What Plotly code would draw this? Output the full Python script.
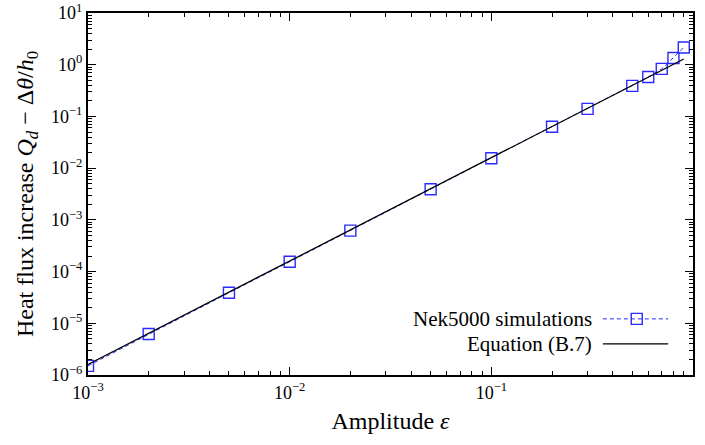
import plotly.graph_objects as go

# Data
sim_eps = [0.001, 0.002, 0.005, 0.01, 0.02, 0.05, 0.1, 0.2, 0.3, 0.5, 0.6, 0.7, 0.8, 0.9]
sim_q = [1.5e-6, 6.2e-6, 3.9e-5, 1.55e-4, 6.2e-4, 3.9e-3, 1.55e-2, 6.3e-2, 0.14, 0.39, 0.58, 0.83, 1.35, 2.15]
eq_eps = [0.001, 0.01, 0.1, 0.9]
eq_q = [1.6e-6, 1.6e-4, 1.6e-2, 1.29]

x_tickvals = [1e-3, 1e-2, 1e-1, 1e0]
x_ticktext = ["10<sup>\u22123</sup>", "10<sup>\u22122</sup>", "10<sup>\u22121</sup>", "10<sup>0</sup>"]
y_tickvals = [1e-6, 1e-5, 1e-4, 1e-3, 1e-2, 1e-1, 1e0, 1e1]
y_ticktext = ["10<sup>\u22126</sup>", "10<sup>\u22125</sup>", "10<sup>\u22124</sup>", "10<sup>\u22123</sup>",
              "10<sup>\u22122</sup>", "10<sup>\u22121</sup>", "10<sup>0</sup>", "10<sup>1</sup>"]

FONT = "Times New Roman, Liberation Serif, DejaVu Serif, serif"
BLUE = "#2a2aff"
DASH = "4px,3px"

fig = go.Figure()
fig.add_trace(go.Scatter(
    x=sim_eps, y=sim_q, mode="lines+markers",
    line=dict(color=BLUE, width=1, dash=DASH),
    marker=dict(symbol="square-open", size=11, color=BLUE, line=dict(width=1.4, color=BLUE)),
    showlegend=False,
))
fig.add_trace(go.Scatter(
    x=eq_eps, y=eq_q, mode="lines",
    line=dict(color="black", width=1.3),
    showlegend=False,
))

# Legend samples (gnuplot style: text left of sample) on an overlay axis
fig.add_trace(go.Scatter(
    x=[0.851, 0.959], y=[0.155, 0.155], mode="lines",
    line=dict(color=BLUE, width=1, dash=DASH),
    xaxis="x2", yaxis="y2", showlegend=False, hoverinfo="skip",
))
fig.add_trace(go.Scatter(
    x=[0.907], y=[0.155], mode="markers",
    marker=dict(symbol="square-open", size=11, color=BLUE, line=dict(width=1.4, color=BLUE)),
    xaxis="x2", yaxis="y2", showlegend=False, hoverinfo="skip",
))
fig.add_trace(go.Scatter(
    x=[0.851, 0.959], y=[0.086, 0.086], mode="lines",
    line=dict(color="black", width=1.3),
    xaxis="x2", yaxis="y2", showlegend=False, hoverinfo="skip",
))

minor_x = [m * 10.0 ** e for e in range(-3, 0) for m in range(2, 10)]
minor_y = [m * 10.0 ** e for e in range(-6, 1) for m in range(2, 10)]

axis_common = dict(
    type="log", showgrid=False, zeroline=False,
    showline=True, linecolor="black", linewidth=2, mirror="allticks",
    ticks="inside", ticklen=8, tickwidth=1, tickcolor="black",
    tickmode="array", tickfont=dict(family=FONT, size=18, color="black"),
)

fig.update_layout(
    width=705, height=445,
    margin=dict(l=88, r=12, t=13, b=70),
    paper_bgcolor="white", plot_bgcolor="white",
    font=dict(family=FONT, color="black"),
    xaxis=dict(
        **axis_common, range=[-3, 0],
        tickvals=x_tickvals, ticktext=x_ticktext,
        minor=dict(tickmode="array", tickvals=minor_x, ticks="inside", ticklen=4, tickcolor="black", showgrid=False),
        title=dict(text="Amplitude <i>\u03b5</i>", font=dict(family=FONT, size=24), standoff=11),
        automargin=False,
    ),
    yaxis=dict(
        **axis_common, range=[-6, 1],
        tickvals=y_tickvals, ticktext=y_ticktext,
        minor=dict(tickmode="array", tickvals=minor_y, ticks="inside", ticklen=4, tickcolor="black", showgrid=False),
        title=dict(text="Heat flux increase <i>Q<sub>d</sub></i> \u2212 \u0394<i>\u03b8</i>/<i>h</i><sub>0</sub>",
                   font=dict(family=FONT, size=24), standoff=11),
        automargin=False,
    ),
    xaxis2=dict(domain=[0, 1], range=[0, 1], overlaying="x", visible=False),
    yaxis2=dict(domain=[0, 1], range=[0, 1], overlaying="y", visible=False),
    annotations=[
        dict(text="Nek5000 simulations", x=0.836, y=0.155, xref="paper", yref="paper",
             xanchor="right", yanchor="middle", showarrow=False, font=dict(family=FONT, size=21)),
        dict(text="Equation (B.7)", x=0.836, y=0.086, xref="paper", yref="paper",
             xanchor="right", yanchor="middle", showarrow=False, font=dict(family=FONT, size=21)),
    ],
)

fig.write_html("out.html")
